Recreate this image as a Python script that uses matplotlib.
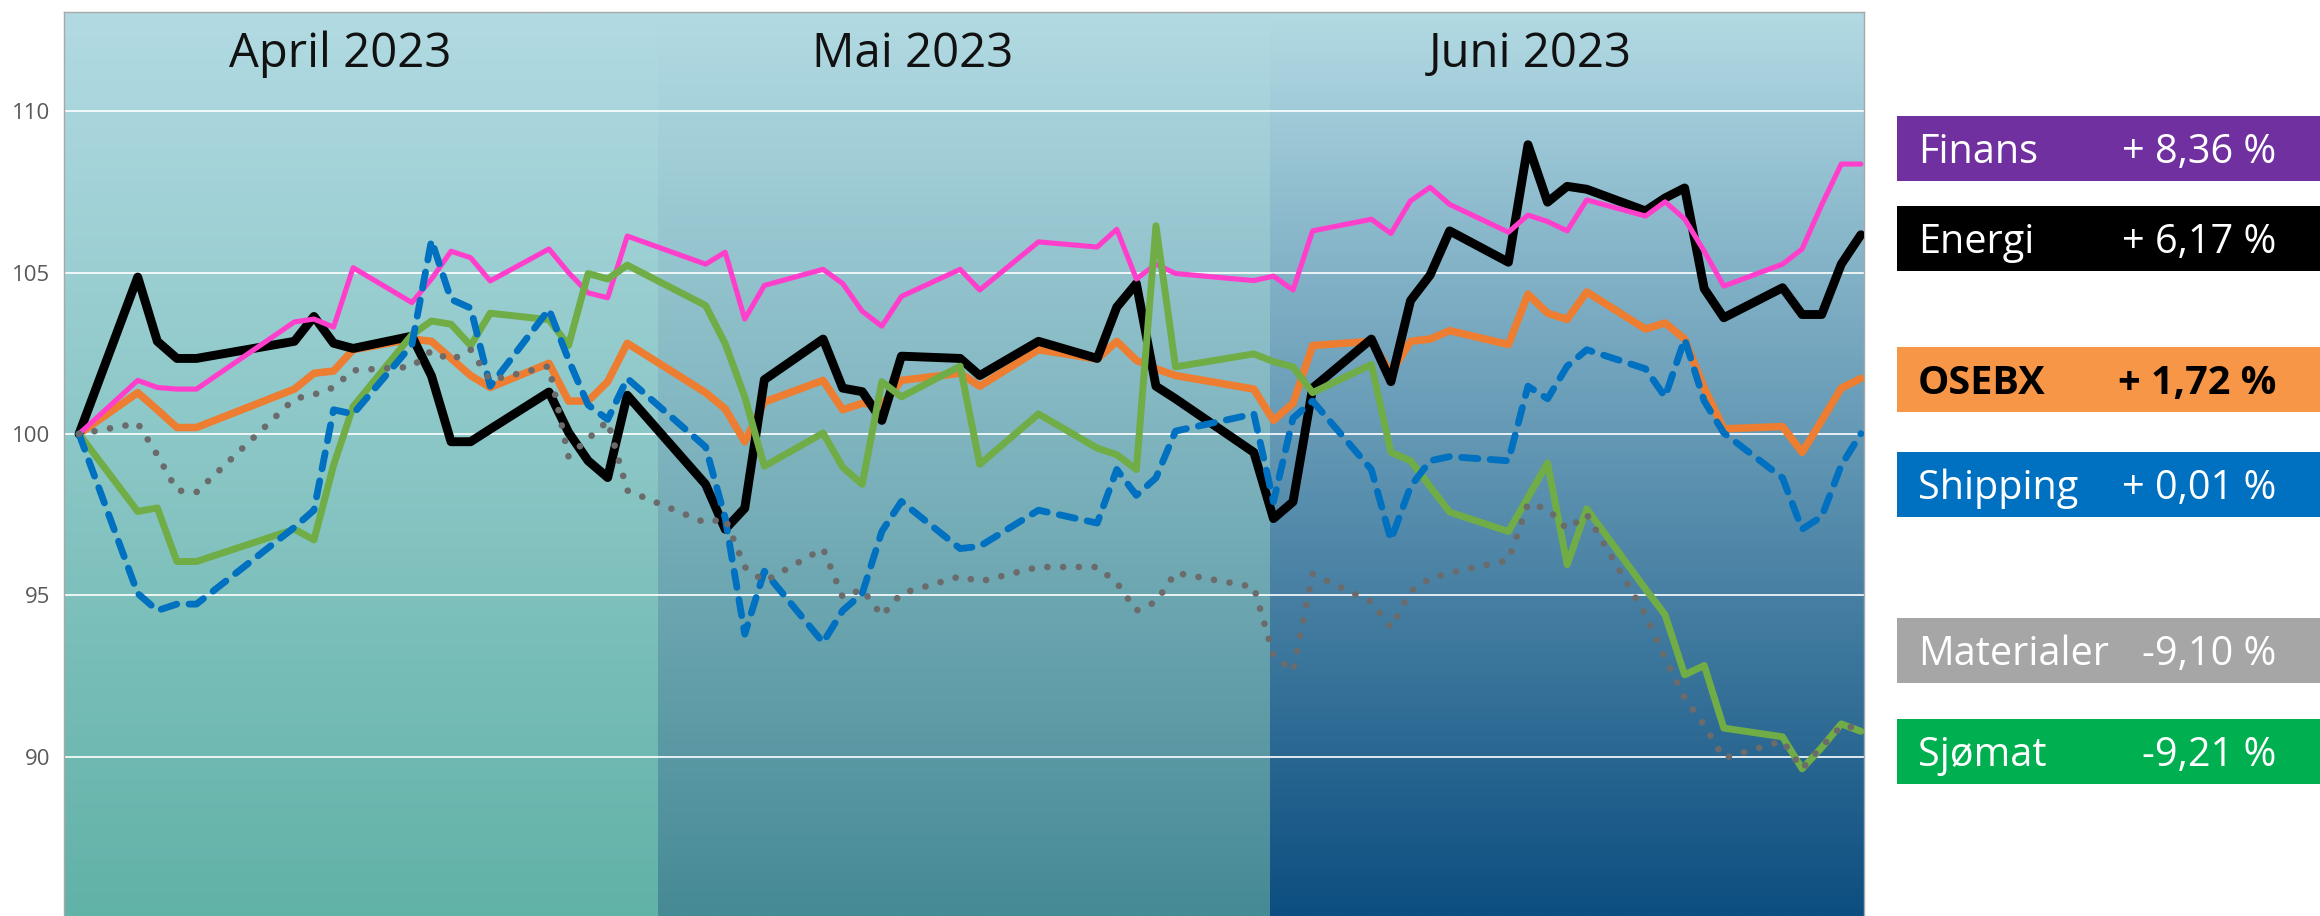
import numpy as np
import matplotlib
matplotlib.use("Agg")
import matplotlib.pyplot as plt
from matplotlib.patches import Rectangle

# ---------------- data ----------------
dates = [
    "2023-03-31",
    "2023-04-03", "2023-04-04", "2023-04-05", "2023-04-06",
    "2023-04-11", "2023-04-12", "2023-04-13", "2023-04-14",
    "2023-04-17", "2023-04-18", "2023-04-19", "2023-04-20", "2023-04-21",
    "2023-04-24", "2023-04-25", "2023-04-26", "2023-04-27", "2023-04-28",
    "2023-05-02", "2023-05-03", "2023-05-04", "2023-05-05",
    "2023-05-08", "2023-05-09", "2023-05-10", "2023-05-11", "2023-05-12",
    "2023-05-15", "2023-05-16", "2023-05-19",
    "2023-05-22", "2023-05-23", "2023-05-24", "2023-05-25", "2023-05-26",
    "2023-05-30", "2023-05-31",
    "2023-06-01", "2023-06-02",
    "2023-06-05", "2023-06-06", "2023-06-07", "2023-06-08", "2023-06-09",
    "2023-06-12", "2023-06-13", "2023-06-14", "2023-06-15", "2023-06-16",
    "2023-06-19", "2023-06-20", "2023-06-21", "2023-06-22", "2023-06-23",
    "2023-06-26", "2023-06-27", "2023-06-28", "2023-06-29", "2023-06-30",
]

energi = [100.0,
          104.86, 102.87, 102.34, 102.34,
          102.87, 103.64, 102.81, 102.65,
          103.03, 101.8, 99.76, 99.76, 100.15,
          101.3, 100.05, 99.17, 98.65, 101.2,
          98.44, 97.05, 97.7, 101.68,
          102.94, 101.42, 101.31, 100.42, 102.41,
          102.34, 101.81, 102.87,
          102.34, 103.93, 104.66, 101.48, 101.09,
          99.43, 97.38,
          97.9, 101.42,
          102.94, 101.62, 104.13, 104.92, 106.29,
          105.32, 108.96, 107.18, 107.67, 107.58,
          106.91, 107.31, 107.62, 104.5, 103.6,
          104.53, 103.7, 103.7, 105.26, 106.17]

finans = [100.0,
          101.66, 101.44, 101.39, 101.39,
          103.47, 103.56, 103.31, 105.15,
          104.07, 104.8, 105.66, 105.46, 104.74,
          105.73, 105.0, 104.37, 104.22, 106.13,
          105.26, 105.63, 103.56, 104.6,
          105.1, 104.66, 103.8, 103.34, 104.26,
          105.1, 104.46, 105.95,
          105.79, 106.34, 104.8, 105.26, 104.97,
          104.75, 104.89,
          104.46, 106.29,
          106.65, 106.21, 107.22, 107.64, 107.11,
          106.25, 106.78, 106.58, 106.29, 107.25,
          106.75, 107.19, 106.66, 105.66, 104.58,
          105.26, 105.73, 107.1, 108.36, 108.36]

osebx = [100.0,
         101.28, 100.75, 100.2, 100.2,
         101.39, 101.88, 101.95, 102.61,
         102.94, 102.87, 102.34, 101.81, 101.44,
         102.19, 101.02, 101.02, 101.62, 102.81,
         101.28, 100.78, 99.76, 100.99,
         101.66, 100.75, 100.95, 100.89, 101.66,
         101.88, 101.48, 102.61,
         102.32, 102.87, 102.28, 102.02, 101.81,
         101.39, 100.42,
         100.95, 102.74,
         102.87, 101.88, 102.87, 102.94, 103.2,
         102.77, 104.33, 103.74, 103.55, 104.4,
         103.25, 103.44, 102.94, 101.42, 100.16,
         100.23, 99.43, 100.42, 101.42, 101.72]

shipping = [100.0,
            95.06, 94.53, 94.73, 94.73,
            97.11, 97.64, 100.75, 100.62,
            102.76, 106.0, 104.17, 103.9, 101.48,
            103.86, 102.3, 100.9, 100.45, 101.72,
            99.6, 97.4, 93.8, 95.75,
            93.54, 94.53, 95.06, 96.98, 97.91,
            96.45, 96.52, 97.64,
            97.24, 98.9, 98.1, 98.64, 100.09,
            100.62, 97.9,
            100.49, 101.02,
            98.9, 96.72, 98.37, 99.17, 99.3,
            99.17, 101.48, 101.09, 102.1, 102.61,
            102.02, 101.15, 102.94, 101.02, 100.03,
            98.64, 97.05, 97.44, 99.03, 100.01]

materialer = [100.0,
              100.33, 99.35, 98.25, 98.2,
              101.09, 101.22, 101.44, 101.97,
              102.08, 102.58, 102.28, 102.61, 101.66,
              102.1, 99.3, 99.85, 100.4, 98.25,
              97.25, 97.38, 95.88, 95.43,
              96.45, 94.95, 95.19, 94.37, 95.06,
              95.59, 95.43, 95.88,
              95.88, 95.39, 94.53, 94.8, 95.7,
              95.26, 93.15,
              92.65, 95.66,
              94.8, 94.0, 95.13, 95.52, 95.7,
              96.09, 97.84, 97.68, 97.05, 97.51,
              94.4, 93.05, 91.82, 90.98, 89.96,
              90.49, 89.63, 90.32, 90.95, 90.9]

sjomat = [100.0,
          97.6, 97.71, 96.05, 96.05,
          97.05, 96.72, 99.03, 100.85,
          103.07, 103.5, 103.4, 102.74, 103.74,
          103.54, 102.74, 104.97, 104.8, 105.23,
          103.98, 102.8, 101.15, 99.0,
          100.03, 98.97, 98.44, 101.62, 101.15,
          102.1, 99.06, 100.62,
          99.56, 99.36, 98.9, 106.45, 102.08,
          102.48, 102.24,
          102.08, 101.28,
          102.15, 99.43, 99.17, 98.37, 97.58,
          96.98, 98.04, 99.1, 95.95, 97.68,
          95.2, 94.4, 92.54, 92.83, 90.89,
          90.62, 89.63, 90.29, 91.02, 90.79]

legend_names = ["Finans", "Energi", "OSEBX", "Shipping", "Materialer", "Sjømat"]
legend_values = ["+ 8,36 %", "+ 6,17 %", "+ 1,72 %", "+ 0,01 %", "-9,10 %", "-9,21 %"]
month_labels = ["April 2023", "Mai 2023", "Juni 2023"]
yticks = [90, 95, 100, 105, 110]

# ---------------- figure ----------------
plt.rcParams['font.family'] = ['Open Sans', 'DejaVu Sans']

W, H = 2320, 916
fig = plt.figure(figsize=(W / 100, H / 100), dpi=100)
ax = fig.add_axes([64 / W, 0, 1800 / W, 904 / H])

days = (np.array(dates, dtype='datetime64[D]') - np.datetime64('2023-03-31')).astype(int)

x_lo, x_hi = -0.766, 91.16
y_lo, y_hi = 85.07, 113.07
ax.set_xlim(x_lo, x_hi)
ax.set_ylim(y_lo, y_hi)

# background panels (vertical gradients)
panel_edges = [x_lo, 29.57, 60.83, x_hi]
top_col = np.array([178, 218, 227]) / 255
bottom_cols = [np.array([97, 178, 167]) / 255,
               np.array([70, 138, 150]) / 255,
               np.array([12, 78, 128]) / 255]
t = np.linspace(0, 1, 300)[:, None, None]
for i in range(3):
    grad = top_col[None, None, :] * (1 - t) + bottom_cols[i][None, None, :] * t
    ax.imshow(grad, extent=[panel_edges[i], panel_edges[i + 1], y_lo, y_hi],
              origin='upper', aspect='auto', interpolation='bilinear', zorder=0)

for yv in yticks:
    ax.axhline(yv, color='white', lw=1.3, alpha=0.92, zorder=1)

# series
ax.plot(days, osebx, color='#ed7d31', lw=5.4, zorder=2,
        solid_joinstyle='round', solid_capstyle='round')
ax.plot(days, energi, color='#000000', lw=6.4, zorder=3,
        solid_joinstyle='round', solid_capstyle='round')
ax.plot(days, finans, color='#ff3fcc', lw=3.7, zorder=4,
        solid_joinstyle='round', solid_capstyle='round')
ax.plot(days, sjomat, color='#70ad47', lw=5.0, zorder=5,
        solid_joinstyle='round', solid_capstyle='round')
ax.plot(days, shipping, color='#0070c0', lw=4.9, zorder=6,
        linestyle=(0, (2.4, 1.8)), dash_capstyle='round', dash_joinstyle='round')
ax.plot(days, materialer, color='#6b6b6b', lw=4.8, zorder=7,
        linestyle=(0, (0.01, 2.35)), dash_capstyle='round')

# month titles
month_x = [13.33, 42.59, 74.1]
for lab, mx in zip(month_labels, month_x):
    ax.text(mx, 111.37, lab, ha='center', va='baseline', fontsize=34,
            color='#111111', zorder=10)

# axes styling
ax.set_yticks(yticks)
ax.set_yticklabels([str(v) for v in yticks])
ax.tick_params(axis='y', length=0, pad=10, labelsize=16, labelcolor='#595959')
ax.set_xticks([])
ax.spines['bottom'].set_visible(False)
for side in ['left', 'top', 'right']:
    ax.spines[side].set_color('#a8a8a8')
    ax.spines[side].set_linewidth(1.0)

# legend boxes (pixel overlay)
ov = fig.add_axes([0, 0, 1, 1], zorder=20)
ov.set_xlim(0, W)
ov.set_ylim(H, 0)
ov.axis('off')
ov.patch.set_alpha(0)

box_colors = ['#7030a0', '#000000', '#f79646', '#0070c0', '#a6a6a6', '#00b050']
text_colors = ['white', 'white', 'black', 'white', 'white', 'white']
weights = ['normal', 'normal', 'bold', 'normal', 'normal', 'normal']
box_tops = [116, 206, 347, 452, 618, 719]
box_h = 65
for name, val, bc, tc, wt, top in zip(legend_names, legend_values, box_colors,
                                      text_colors, weights, box_tops):
    ov.add_patch(Rectangle((1897, top), W - 1897, box_h, facecolor=bc,
                           edgecolor='none'))
    base = top + box_h / 2 + 14.5
    ov.text(1918, base, name, ha='left', va='baseline', fontsize=28.5,
            color=tc, fontweight=wt)
    ov.text(2276, base, val, ha='right', va='baseline', fontsize=28.5,
            color=tc, fontweight=wt)

fig.savefig('out.png', dpi=100)
